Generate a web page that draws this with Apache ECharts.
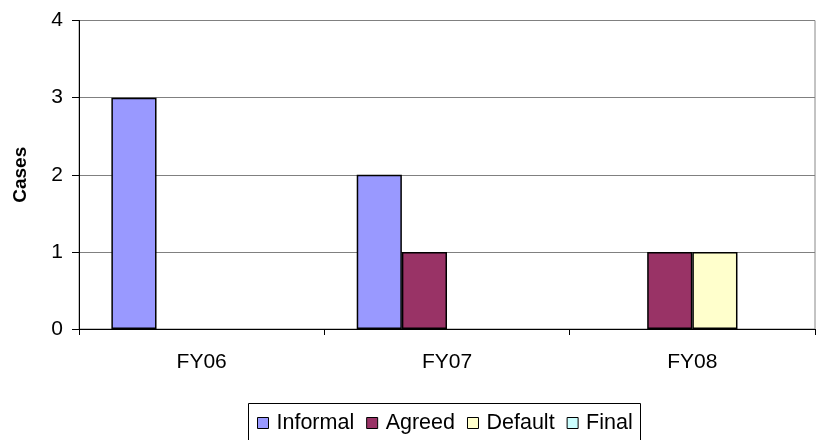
<!DOCTYPE html>
<html>
<head>
<meta charset="utf-8">
<script src="https://cdn.jsdelivr.net/npm/echarts@6/dist/echarts.min.js"></script>
<style>html,body{margin:0;padding:0;background:#fff;}#c{width:817px;height:440px;}</style>
</head>
<body>
<div id="c"></div>
<script>
const categories = ['FY06', 'FY07', 'FY08'];
const seriesNames = ['Informal', 'Agreed', 'Default', 'Final'];
const informal = [3, 2, 0];
const agreed = [0, 1, 1];
const defaultVals = [0, 0, 1];
const finalVals = [0, 0, 0];
const yTicks = [0, 1, 2, 3, 4];
const colors = ['#9999FF', '#993366', '#FFFFCC', '#CCFFFF'];
const values = [informal, agreed, defaultVals, finalVals];

const font = 'Liberation Sans, Arial, sans-serif';
const chart = echarts.init(document.getElementById('c'), null, {renderer: 'canvas'});
chart.setOption({
  animation: false,
  backgroundColor: '#fff',
  color: colors,
  textStyle: {fontFamily: font},
  grid: {left: 79, right: 2, top: 20.5, bottom: 111, show: true, borderColor: '#888', borderWidth: 1, containLabel: false},
  graphic: [{
    type: 'rect',
    shape: {x: 248.5, y: 403.5, width: 392, height: 50},
    style: {fill: 'none', stroke: '#000', lineWidth: 1},
    silent: true
  }],
  legend: {
    data: seriesNames,
    top: 412,
    left: 248,
    padding: [0, 8, 0, 9],
    itemWidth: 11,
    itemHeight: 11,
    itemGap: 12,
    icon: 'rect',
    itemStyle: {borderColor: '#000', borderWidth: 1},
    textStyle: {fontSize: 21.5, color: '#000', fontFamily: font, padding: [0, 0, 0, 3]}
  },
  xAxis: {
    type: 'category',
    data: categories,
    axisLine: {lineStyle: {color: '#000', width: 1}},
    axisTick: {show: true, length: 6, lineStyle: {color: '#000'}},
    axisLabel: {fontSize: 21, color: '#000', margin: 23, fontFamily: font},
    splitLine: {show: false}
  },
  yAxis: {
    type: 'value',
    min: yTicks[0],
    max: yTicks[yTicks.length - 1],
    interval: 1,
    name: 'Cases',
    nameLocation: 'middle',
    nameGap: 49,
    nameRotate: 90,
    nameTextStyle: {fontSize: 19, fontWeight: 'bold', color: '#000', fontFamily: font},
    axisLine: {show: true, lineStyle: {color: '#000', width: 1}},
    axisTick: {show: true, length: 7, lineStyle: {color: '#000'}},
    axisLabel: {fontSize: 21, color: '#000', margin: 16, fontFamily: font},
    splitLine: {show: true, lineStyle: {color: '#808080', width: 1}}
  },
  series: seriesNames.map((n, i) => ({
    name: n,
    type: 'bar',
    data: values[i].map(v => (v === 0 ? '-' : v)),
    barWidth: '18.4%',
    barGap: '0%',
    itemStyle: {color: colors[i], borderColor: '#000', borderWidth: 1.5}
  }))
});
</script>
</body>
</html>
